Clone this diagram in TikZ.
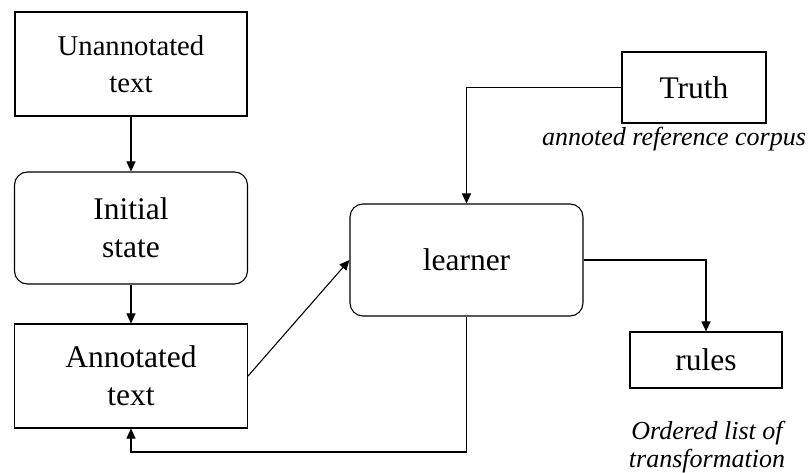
\documentclass[tikz,border=0pt]{standalone}
\usepackage{fontspec}
\setmainfont{Liberation Serif}
\usetikzlibrary{arrows.meta}
\begin{document}
\begin{tikzpicture}[x=1pt,y=-1pt,
  box/.style={draw, line width=1.1pt, align=center, inner sep=0pt,
    font=\fontsize{31.5}{38}\selectfont},
  rbox/.style={box, rounded corners=13pt},
  lab/.style={align=center, inner sep=0pt, font=\fontsize{26}{27.5}\selectfont\itshape},
  conn/.style={line width=1.1pt, -{Triangle[length=10pt,width=9pt]}}]
\useasboundingbox (0,0) rectangle (812,473);
\node[box, minimum width=232pt, minimum height=104pt, font=\fontsize{28.7}{37}\selectfont] (un) at (131,64) {Unannotated\\text};
\node[rbox, minimum width=233pt, minimum height=112pt] (init) at (131,228) {Initial\\state};
\node[box, minimum width=233pt, minimum height=104pt] (ann) at (131,376) {Annotated\\text};
\node[rbox, minimum width=233pt, minimum height=112pt] (learn) at (466.5,260) {learner};
\node[box, minimum width=144pt, minimum height=71pt] (truth) at (694,87.5) {Truth};
\node[box, minimum width=152pt, minimum height=56pt] (rules) at (706,360) {rules};
\node[lab, anchor=base] (corp) at (674,146) {annoted reference corpus};
\node[lab] (olist) at (707,447) {Ordered list of\\transformation};
\coordinate (fb) at (0,452);
\draw[conn] (un.south) -- (init.north);
\draw[conn] (init.south) -- (ann.north);
\draw[conn] (ann.east) -- (learn.west);
\draw[conn] (truth.west) -| (learn.north);
\draw[conn] (learn.east) -| (rules.north);
\draw[conn] (learn.south) -- (learn.south |- fb) -| (ann.south);
\end{tikzpicture}
\end{document}
